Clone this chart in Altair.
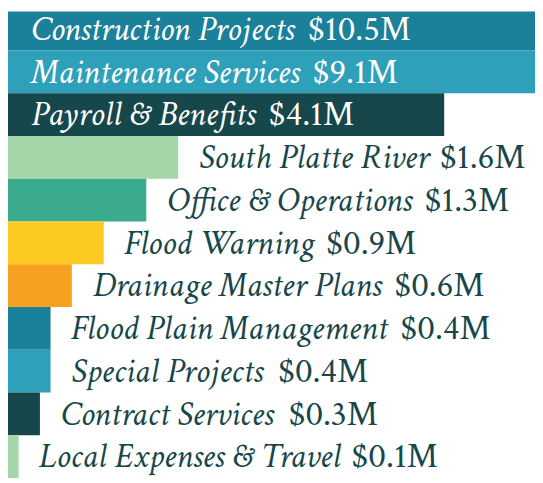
import altair as alt
import pandas as pd

categories = [
    "Construction Projects", "Maintenance Services", "Payroll & Benefits",
    "South Platte River", "Office & Operations", "Flood Warning",
    "Drainage Master Plans", "Flood Plain Management", "Special Projects",
    "Contract Services", "Local Expenses & Travel",
]
values = [10.5, 9.1, 4.1, 1.6, 1.3, 0.9, 0.6, 0.4, 0.4, 0.3, 0.1]
value_labels = ["$10.5M", "$9.1M", "$4.1M", "$1.6M", "$1.3M", "$0.9M",
                "$0.6M", "$0.4M", "$0.4M", "$0.3M", "$0.1M"]
colors = ["#1b8099", "#2fa0ba", "#16474a", "#a5d6aa", "#3aab8c", "#fdca21",
          "#f8a121", "#1b8099", "#2fa0ba", "#16474a", "#a5d6aa"]
inside = [True, True, True, False, False, False, False, False, False, False, False]

# layout constants
W, H = 535, 475
PPM = 108.0          # pixels per $1M
FONT = 35.5
FONT_FAMILY = "Crimson Text"
EM_PX = 31.5         # effective px per 1000 width units below
GAP_OUT = 21
PAD_IN = 23
TEXT_DARK = "#17474b"

# approximate italic advance widths (1/1000 em) used to place the value after the name
_ital = dict(zip("abcdefghijklmnopqrstuvwxyz",
                 [500, 500, 444, 500, 444, 278, 500, 560, 278, 200, 444, 278, 722,
                  500, 500, 470, 500, 389, 389, 278, 500, 444, 667, 400, 480, 389]))
_ital.update(dict(zip("ABCDEFGHIJKLMNOPQRSTUVWXYZ",
                      [611, 640, 630, 722, 580, 660, 722, 722, 333, 444, 667, 500, 870,
                       667, 722, 611, 722, 740, 500, 530, 722, 611, 900, 611, 556, 556])))
_ital.update({" ": 250, "&": 640})


def italic_width(s):
    return sum(_ital.get(ch, 500) for ch in s) / 1000.0 * EM_PX


rows = []
for c, v, lab, ins in zip(categories, values, value_labels, inside):
    start_px = PAD_IN if ins else v * PPM + GAP_OUT
    cat_x = start_px / PPM
    val_x = (start_px + italic_width(c + " ")) / PPM
    rows.append(dict(cat=c, val=v, vlabel=lab, inside=ins, cat_x=cat_x, val_x=val_x))
df = pd.DataFrame(rows)

xscale = alt.Scale(domain=[0, W / PPM], nice=False, zero=True)
yenc = alt.Y("cat:N", sort=categories, axis=None,
             scale=alt.Scale(range=[-4, 473.5], paddingInner=0, paddingOuter=0))

base = alt.Chart(df)

bars = base.mark_bar(clip=True).encode(
    x=alt.X("val:Q", scale=xscale, axis=None),
    y=yenc,
    color=alt.Color("cat:N", scale=alt.Scale(domain=categories, range=colors), legend=None),
)

txt_color = alt.condition("datum.inside", alt.value("white"), alt.value(TEXT_DARK))

cat_text = base.mark_text(
    align="left", baseline="middle", font=FONT_FAMILY,
    fontStyle="italic", fontSize=FONT,
).encode(
    x=alt.X("cat_x:Q", scale=xscale),
    y=yenc,
    text="cat:N",
    color=txt_color,
)

val_text = base.mark_text(
    align="left", baseline="middle", font=FONT_FAMILY,
    fontSize=FONT,
).encode(
    x=alt.X("val_x:Q", scale=xscale),
    y=yenc,
    text="vlabel:N",
    color=txt_color,
)

chart = alt.layer(bars, cat_text, val_text).properties(
    width=W, height=H, padding=0,
    autosize=alt.AutoSizeParams(type="none"),
    background="white",
).configure_view(stroke=None)

chart.save("out.html", embed_options={"renderer": "svg", "actions": False})
